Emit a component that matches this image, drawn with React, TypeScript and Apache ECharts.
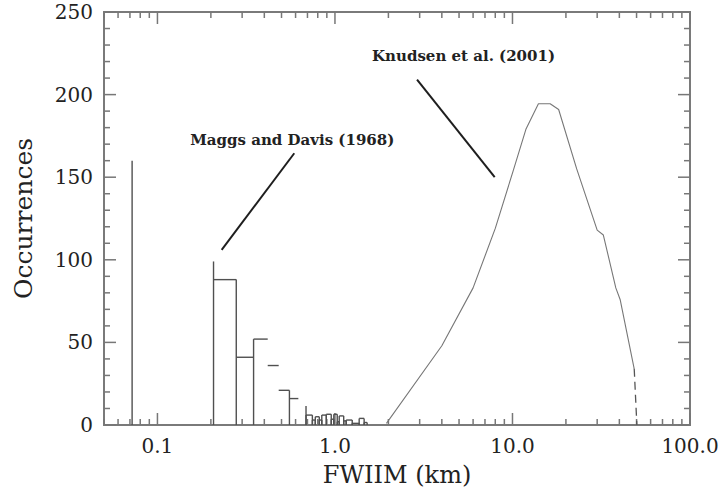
import React, { useEffect, useRef } from "react";
import * as echarts from "echarts";

// ---- data ----
const yTickValues = [0, 50, 100, 150, 200, 250];
const xTickValues = [0.1, 1, 10, 100];
const xTickLabels = ["0.1", "1.0", "10.0", "100.0"];

// isolated vertical lines (x, height)
const spikeX = [0.072, 0.207, 0.278, 0.348, 0.554, 0.687];
const spikeTop = [160, 99, 88, 52, 21, 11.5];

// Maggs and Davis (1968) histogram: coarse bins (tops only)
const binLeft = [0.207, 0.278, 0.348, 0.418, 0.482, 0.554];
const binRight = [0.278, 0.348, 0.418, 0.482, 0.554, 0.622];
const binCount = [88, 41, 52, 36, 21, 16];

// fine bins (outlined)
const fineLeft = [0.687, 0.746, 0.775, 0.816, 0.843, 0.894, 0.953, 0.985, 1.03, 1.057, 1.12, 1.157, 1.251, 1.369, 1.46];
const fineRight = [0.746, 0.775, 0.816, 0.843, 0.894, 0.953, 0.985, 1.03, 1.057, 1.12, 1.157, 1.251, 1.369, 1.46, 1.518];
const fineCount = [6, 3, 5, 3, 6, 6.5, 3.5, 6.5, 2, 5.5, 2.5, 3, 1, 4, 1.5];

// Knudsen et al. (2001) distribution
const knudsenX = [1.95, 4.0, 6.0, 8.0, 10.1, 11.9, 14.0, 16.3, 18.2, 23, 30, 32.5, 38.2, 40.4, 48.5];
const knudsenY = [1, 48, 83, 119, 154, 179, 194.5, 194.5, 191, 155, 118, 115, 83, 76, 34];
const knudsenTailX = [48.5, 50.2];
const knudsenTailY = [34, 0];

// annotations
const annoText = ["Maggs and Davis (1968)", "Knudsen et al. (2001)"];
const annoTextX = [0.575, 5.3];
const annoTextY = [172.5, 223.5];
const pointerFromX = [0.59, 2.9];
const pointerFromY = [164.5, 209];
const pointerToX = [0.23, 7.94];
const pointerToY = [106, 150];

const X_MIN = 0.05;
const X_MAX = 100;
const Y_MIN = 0;
const Y_MAX = 250;

const FONT = "DejaVu Serif";

export default function App() {
  const ref = useRef<HTMLDivElement>(null);

  useEffect(() => {
    if (!ref.current) return;
    const chart = echarts.init(ref.current, null, { renderer: "svg" });

    const histSegments: number[][] = [];
    for (let i = 0; i < binLeft.length; i++) {
      histSegments.push([binLeft[i], binCount[i], binRight[i], binCount[i]]);
    }
    for (let i = 0; i < spikeX.length; i++) {
      histSegments.push([spikeX[i], 0, spikeX[i], spikeTop[i]]);
    }
    for (let i = 0; i < fineLeft.length; i++) {
      histSegments.push([fineLeft[i], 0, fineLeft[i], fineCount[i]]);
      histSegments.push([fineLeft[i], fineCount[i], fineRight[i], fineCount[i]]);
      histSegments.push([fineRight[i], fineCount[i], fineRight[i], 0]);
    }

    const pointerSegments: number[][] = pointerFromX.map((x, i) => [x, pointerFromY[i], pointerToX[i], pointerToY[i]]);

    // x ticks (log minor ticks 2..9)
    const xTicks: number[][] = [];
    for (let e = -2; e <= 2; e++) {
      for (let k = 1; k <= 9; k++) {
        const v = k * Math.pow(10, e);
        if (v >= X_MIN * 0.999 && v <= X_MAX * 1.001) xTicks.push([v, 0, k === 1 ? 1 : 0]);
      }
    }
    const yTicks: number[][] = [];
    for (let v = Y_MIN; v <= Y_MAX; v += 10) {
      yTicks.push([X_MIN, v, v % 50 === 0 ? 1 : 0]);
    }

    const segRender = (color: string, width: number) => (params: any, api: any) => {
      const p1 = api.coord([api.value(0), api.value(1)]);
      const p2 = api.coord([api.value(2), api.value(3)]);
      return {
        type: "line",
        shape: { x1: p1[0], y1: p1[1], x2: p2[0], y2: p2[1] },
        style: { stroke: color, lineWidth: width, lineCap: "butt" },
      };
    };

    const tickColor = "#777";

    chart.setOption({
      animation: false,
      backgroundColor: "#ffffff",
      grid: {
        left: 104,
        right: 37,
        top: 12,
        bottom: 70,
        show: true,
        borderColor: "#7a7a7a",
        borderWidth: 2,
        containLabel: false,
      },
      xAxis: {
        type: "log",
        logBase: 10,
        min: X_MIN,
        max: X_MAX,
        name: "FWIIM (km)",
        nameLocation: "middle",
        nameGap: 38,
        nameTextStyle: { fontFamily: FONT, fontSize: 24, color: "#222" },
        axisLine: { show: false },
        axisTick: { show: false },
        splitLine: { show: false },
        minorTick: { show: false },
        axisLabel: {
          fontFamily: FONT,
          fontSize: 20,
          color: "#222",
          margin: 11,
          showMinLabel: false,
          formatter: (v: number) => {
            for (let i = 0; i < xTickValues.length; i++) {
              if (Math.abs(v - xTickValues[i]) / xTickValues[i] < 1e-6) return xTickLabels[i];
            }
            return "";
          },
        },
      },
      yAxis: {
        type: "value",
        min: Y_MIN,
        max: Y_MAX,
        interval: 50,
        name: "Occurrences",
        nameLocation: "middle",
        nameGap: 68,
        nameTextStyle: { fontFamily: FONT, fontSize: 25, color: "#222" },
        axisLine: { show: false },
        axisTick: { show: false },
        splitLine: { show: false },
        axisLabel: {
          fontFamily: FONT,
          fontSize: 20,
          color: "#222",
          margin: 11,
          formatter: (v: number) => (yTickValues.indexOf(v) >= 0 ? String(v) : ""),
        },
      },
      series: [
        {
          type: "custom",
          name: "xticks",
          coordinateSystem: "cartesian2d",
          silent: true,
          clip: false,
          encode: { x: 0, y: 1 },
          data: xTicks,
          renderItem: (params: any, api: any) => {
            const v = api.value(0);
            const len = api.value(2) ? 12 : 6;
            const b = api.coord([v, Y_MIN]);
            const t = api.coord([v, Y_MAX]);
            return {
              type: "group",
              children: [
                { type: "line", shape: { x1: b[0], y1: b[1], x2: b[0], y2: b[1] - len }, style: { stroke: tickColor, lineWidth: 1.5 } },
                { type: "line", shape: { x1: t[0], y1: t[1], x2: t[0], y2: t[1] + len }, style: { stroke: tickColor, lineWidth: 1.5 } },
              ],
            };
          },
        },
        {
          type: "custom",
          name: "yticks",
          coordinateSystem: "cartesian2d",
          silent: true,
          clip: false,
          encode: { x: 0, y: 1 },
          data: yTicks,
          renderItem: (params: any, api: any) => {
            const v = api.value(1);
            const len = api.value(2) ? 12 : 6;
            const l = api.coord([X_MIN, v]);
            const r = api.coord([X_MAX, v]);
            return {
              type: "group",
              children: [
                { type: "line", shape: { x1: l[0], y1: l[1], x2: l[0] + len, y2: l[1] }, style: { stroke: tickColor, lineWidth: 1.5 } },
                { type: "line", shape: { x1: r[0], y1: r[1], x2: r[0] - len, y2: r[1] }, style: { stroke: tickColor, lineWidth: 1.5 } },
              ],
            };
          },
        },
        {
          type: "custom",
          name: "Maggs and Davis (1968)",
          coordinateSystem: "cartesian2d",
          silent: true,
          clip: false,
          dimensions: ["x1", "y1", "x2", "y2"],
          encode: { x: [0, 2], y: [1, 3] },
          data: histSegments,
          renderItem: segRender("#505050", 1.4),
        },
        {
          type: "line",
          name: "Knudsen et al. (2001)",
          data: knudsenX.map((x, i) => [x, knudsenY[i]]),
          showSymbol: false,
          symbol: "none",
          lineStyle: { color: "#777", width: 1.1 },
          silent: true,
        },
        {
          type: "line",
          name: "Knudsen tail",
          data: knudsenTailX.map((x, i) => [x, knudsenTailY[i]]),
          showSymbol: false,
          symbol: "none",
          lineStyle: { color: "#555", width: 1.3, type: [8, 5] },
          silent: true,
        },
        {
          type: "custom",
          name: "pointers",
          coordinateSystem: "cartesian2d",
          silent: true,
          clip: false,
          dimensions: ["x1", "y1", "x2", "y2"],
          encode: { x: [0, 2], y: [1, 3] },
          data: pointerSegments,
          renderItem: segRender("#1e1e1e", 2),
        },
        {
          type: "custom",
          name: "annotations",
          coordinateSystem: "cartesian2d",
          silent: true,
          clip: false,
          encode: { x: 0, y: 1 },
          data: annoTextX.map((x, i) => [x, annoTextY[i], i]),
          renderItem: (params: any, api: any) => {
            const p = api.coord([api.value(0), api.value(1)]);
            const idx = api.value(2);
            return {
              type: "text",
              x: p[0],
              y: p[1],
              style: {
                text: annoText[idx],
                fontFamily: FONT,
                fontSize: 15,
                fontWeight: "bold",
                fill: "#222",
                align: "center",
                verticalAlign: "middle",
              },
            };
          },
        },
      ],
    });

    return () => chart.dispose();
  }, []);

  return (
    <div
      ref={ref}
      style={{ position: "absolute", left: 0, top: 0, width: 727, height: 495, background: "#fff" }}
    />
  );
}
